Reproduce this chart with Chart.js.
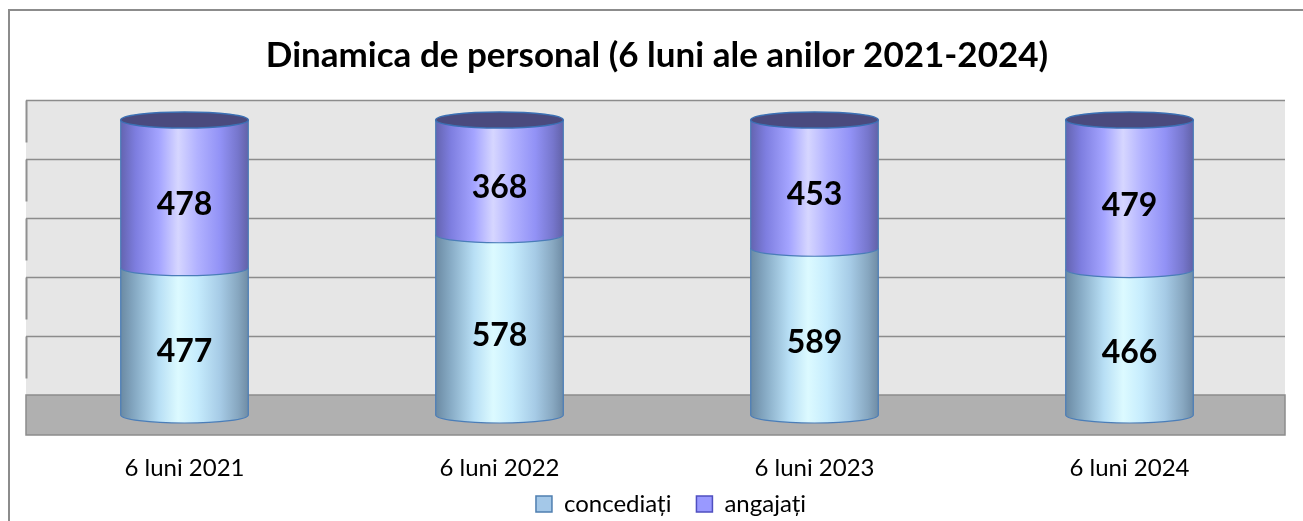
<!DOCTYPE html>
<html>
<head>
<meta charset="utf-8">
<script src="https://cdn.jsdelivr.net/npm/chart.js@4.4.1/dist/chart.umd.min.js"></script>
<style>
  html, body { margin: 0; padding: 0; background: #ffffff; }
  #wrap { width: 1303px; height: 521px; position: relative; }
</style>
</head>
<body>
<div id="wrap"><canvas id="c" width="1303" height="521"></canvas></div>
<script>
// ---- data ----
const categories = ['6 luni 2021', '6 luni 2022', '6 luni 2023', '6 luni 2024'];
const concediati = [477, 578, 589, 466];
const angajati = [478, 368, 453, 479];
const seriesNames = ['concediați', 'angajați'];
const titleText = 'Dinamica de personal (6 luni ale anilor 2021-2024)';
const gridValues = [0, 20, 40, 60, 80, 100];

// percent-stacked values (100% stacked chart)
const totals = concediati.map((v, i) => v + angajati[i]);
const pctConcediati = concediati.map((v, i) => v / totals[i] * 100);
const pctAngajati = angajati.map((v, i) => v / totals[i] * 100);
const rawValues = [concediati, angajati];

const DEPTH = 20;      // 3D depth offset (px)
const RY = 8;          // ellipse vertical radius
const LEGEND_SHIFT_Y = -21;
const LEGEND_SHIFT_X = 14;

const gradStops = [
  [[0, '#6b8aa3'], [0.12, '#88acc6'], [0.3, '#b8dff5'], [0.45, '#dcfaff'], [0.6, '#c6ecfd'], [0.78, '#a6cbe6'], [0.92, '#87a7c0'], [1, '#6f8ca5']],
  [[0, '#6464b0'], [0.12, '#7e7ee0'], [0.3, '#a4a4ff'], [0.45, '#d6d6ff'], [0.6, '#b2b2ff'], [0.78, '#9292f6'], [0.92, '#7676cc'], [1, '#6262a8']]
];
const legendFill = ['#a4c8e8', '#9999ff'];
const legendStroke = ['#4f7fb0', '#4f4fc0'];

const wallPlugin = {
  id: 'walls',
  afterLayout(chart) {
    if (chart.legend) {
      chart.legend.top += LEGEND_SHIFT_Y;
      chart.legend.bottom += LEGEND_SHIFT_Y;
      chart.legend.left += LEGEND_SHIFT_X;
      chart.legend.right += LEGEND_SHIFT_X;
    }
  },
  beforeDraw(chart) {
    const ctx = chart.ctx;
    ctx.save();
    ctx.fillStyle = '#ffffff';
    ctx.fillRect(0, 0, chart.width, chart.height);
    ctx.strokeStyle = '#8c8c8c';
    ctx.lineWidth = 2;
    ctx.strokeRect(9, 10, chart.width + 20, chart.height + 20);
    ctx.restore();
  },
  beforeDatasetsDraw(chart) {
    const ctx = chart.ctx;
    const ys = chart.scales.y;
    const a = chart.chartArea;
    const L = a.left - 1, R = a.right - 2;
    const y0 = ys.getPixelForValue(0);
    const y100 = ys.getPixelForValue(100);
    ctx.save();
    // back wall
    ctx.fillStyle = '#e6e6e6';
    ctx.fillRect(L, y100 - DEPTH, R - L, (y0 - y100));
    // floor
    ctx.fillStyle = '#b0b0b0';
    ctx.fillRect(L, y0 - DEPTH, R - L, 2 * DEPTH);
    ctx.strokeStyle = '#8c8c8c';
    ctx.lineWidth = 1.5;
    ctx.strokeRect(L, y0 - DEPTH, R - L, 2 * DEPTH);
    // gridlines
    gridValues.forEach(v => {
      if (v === 0) return;
      const gy = Math.round(ys.getPixelForValue(v) - DEPTH) + 0.5;
      ctx.strokeStyle = '#8c8c8c';
      ctx.lineWidth = 1.5;
      ctx.beginPath();
      ctx.moveTo(L, gy);
      ctx.lineTo(R, gy);
      ctx.stroke();
      ctx.strokeStyle = '#909090';
      ctx.lineWidth = 2;
      ctx.beginPath();
      ctx.moveTo(L + 0.5, gy);
      ctx.lineTo(L + 0.5, gy + 42);
      ctx.stroke();
    });
    ctx.restore();
  },
  afterDatasetsDraw(chart) {
    const ctx = chart.ctx;
    ctx.save();
    const metas = [chart.getDatasetMeta(0), chart.getDatasetMeta(1)];
    const n = categories.length;
    for (let i = 0; i < n; i++) {
      metas.forEach((meta, d) => {
        const el = meta.data[i];
        const p = el.getProps(['x', 'y', 'base', 'width'], true);
        const rx = p.width / 2;
        const left = p.x - rx, right = p.x + rx;
        const top = p.y, base = p.base;
        const g = ctx.createLinearGradient(left, 0, right, 0);
        gradStops[d].forEach(s => g.addColorStop(s[0], s[1]));
        ctx.beginPath();
        ctx.moveTo(left, top);
        ctx.lineTo(left, base);
        ctx.ellipse(p.x, base, rx, RY, 0, Math.PI, 0, true);
        ctx.lineTo(right, top);
        ctx.ellipse(p.x, top, rx, RY, 0, 0, Math.PI, true);
        ctx.closePath();
        ctx.fillStyle = g;
        ctx.fill();
        ctx.strokeStyle = '#4a7db8';
        ctx.lineWidth = 1.2;
        ctx.beginPath();
        ctx.moveTo(left, top);
        ctx.lineTo(left, base);
        ctx.ellipse(p.x, base, rx, RY, 0, Math.PI, 0, true);
        ctx.lineTo(right, top);
        ctx.stroke();
      });
      const topEl = metas[1].data[i].getProps(['x', 'y', 'width'], true);
      ctx.beginPath();
      ctx.ellipse(topEl.x, topEl.y, topEl.width / 2, RY, 0, 0, Math.PI * 2);
      ctx.fillStyle = '#4a4a7e';
      ctx.fill();
      ctx.strokeStyle = '#3b70b4';
      ctx.lineWidth = 1.5;
      ctx.stroke();
    }
    // data labels
    ctx.fillStyle = '#000000';
    ctx.font = 'bold 32px Lato';
    ctx.textAlign = 'center';
    ctx.textBaseline = 'alphabetic';
    metas.forEach((meta, d) => {
      meta.data.forEach((el, i) => {
        const p = el.getProps(['x', 'y', 'base'], true);
        const cy = (p.y + p.base) / 2 + 9.5;
        ctx.fillText(String(rawValues[d][i]), p.x, cy + 11.5);
      });
    });
    ctx.restore();
  }
};

new Chart(document.getElementById('c'), {
  type: 'bar',
  data: {
    labels: categories,
    datasets: [
      { label: seriesNames[0], data: pctConcediati, backgroundColor: 'rgba(0,0,0,0)', borderWidth: 0 },
      { label: seriesNames[1], data: pctAngajati, backgroundColor: 'rgba(0,0,0,0)', borderWidth: 0 }
    ]
  },
  options: {
    responsive: false,
    animation: false,
    devicePixelRatio: 1,
    layout: { padding: { left: 27, right: 16, top: 0, bottom: -26 } },
    datasets: { bar: { categoryPercentage: 1, barPercentage: 0.405 } },
    scales: {
      x: {
        stacked: true,
        grid: { display: false, drawTicks: false },
        border: { display: false },
        ticks: { color: '#000000', padding: 39, font: { family: 'Lato', size: 24, lineHeight: 1.2 } },
        afterFit: (scale) => { scale.height = 73; }
      },
      y: { stacked: true, display: false, min: 0, max: 100 }
    },
    plugins: {
      title: {
        display: true,
        text: titleText,
        color: '#000000',
        font: { family: 'Lato', size: 35, weight: 'bold', lineHeight: 1.2 },
        padding: { top: 35, bottom: 43 }
      },
      legend: {
        display: true,
        position: 'bottom',
        labels: {
          color: '#000000',
          font: { family: 'Lato', size: 24 },
          boxWidth: 16,
          boxHeight: 16,
          padding: 25,
          generateLabels: () => seriesNames.map((s, i) => ({
            text: s, fillStyle: legendFill[i], strokeStyle: legendStroke[i], lineWidth: 1.5, datasetIndex: i, hidden: false
          }))
        }
      },
      tooltip: { enabled: false }
    }
  },
  plugins: [wallPlugin]
});
</script>
</body>
</html>
